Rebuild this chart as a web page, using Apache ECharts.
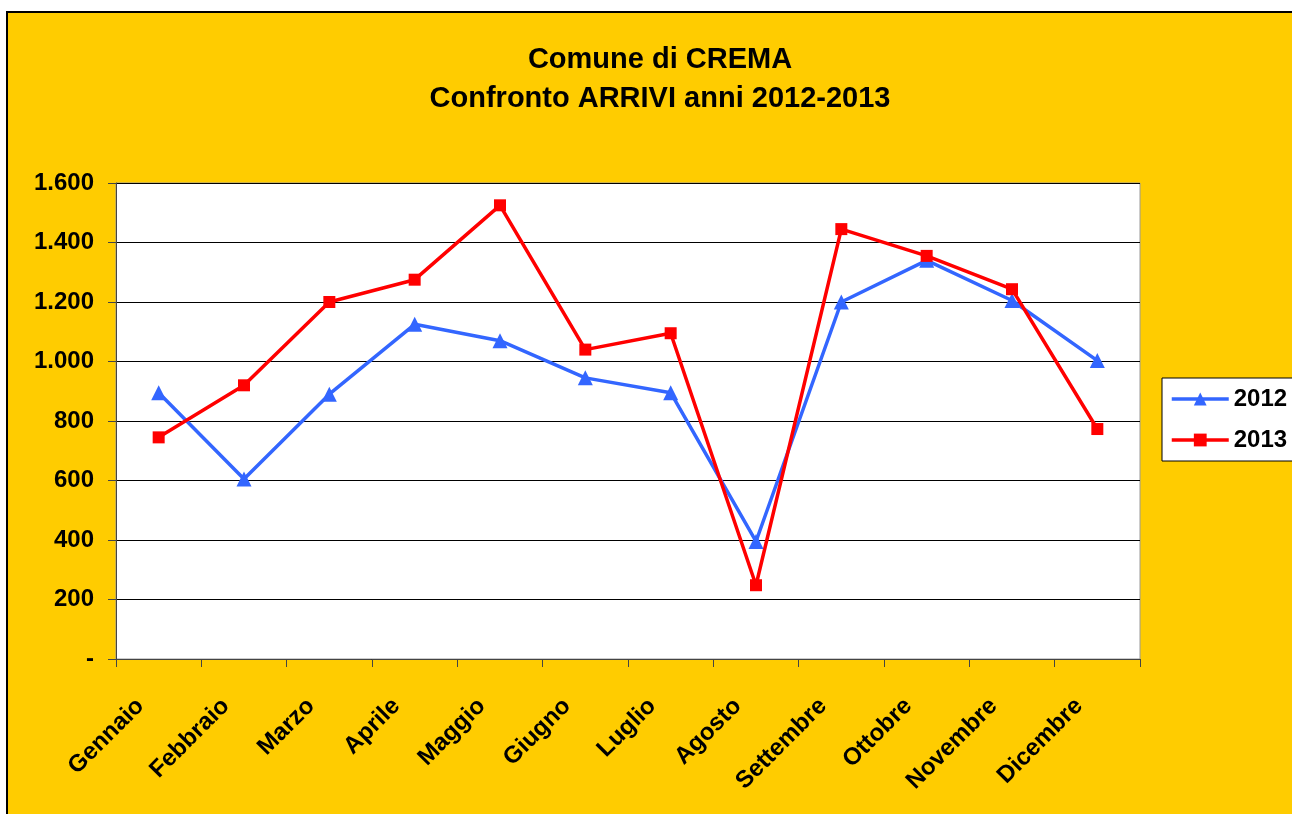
<!DOCTYPE html>
<html>
<head>
<meta charset="utf-8">
<script src="https://cdn.jsdelivr.net/npm/echarts@6/dist/echarts.min.js"></script>
<style>
  html, body { margin: 0; padding: 0; background: #fff; }
  #chart { width: 1292px; height: 814px; }
</style>
</head>
<body>
<div id="chart"></div>
<script>
const months = ['Gennaio', 'Febbraio', 'Marzo', 'Aprile', 'Maggio', 'Giugno', 'Luglio', 'Agosto', 'Settembre', 'Ottobre', 'Novembre', 'Dicembre'];
const arrivi2012 = [895, 605, 890, 1125, 1070, 945, 895, 395, 1200, 1340, 1205, 1003];
const arrivi2013 = [745, 920, 1200, 1275, 1525, 1040, 1095, 248, 1445, 1355, 1243, 773];

const FONT = 'Liberation Sans, Arial, sans-serif';

// 1.600 style, "-" for zero
const fmtNum = v => (v === 0 ? '-' : String(v).replace(/\B(?=(\d{3})+(?!\d))/g, '.'));

const chart = echarts.init(document.getElementById('chart'), null, { renderer: 'canvas' });

chart.setOption({
  backgroundColor: '#fff',
  animation: false,
  textStyle: { fontFamily: FONT },
  graphic: [
    {
      type: 'rect',
      z: -10,
      silent: true,
      shape: { x: 7, y: 12, width: 1400, height: 900 },
      style: { fill: '#FFCC00', stroke: '#000', lineWidth: 2 },
    },
  ],
  title: {
    text: 'Comune di CREMA\nConfronto ARRIVI anni 2012-2013',
    left: 655,
    top: 35,
    textAlign: 'center',
    textStyle: {
      fontFamily: FONT,
      fontSize: 29,
      fontWeight: 'bold',
      color: '#000',
      lineHeight: 39,
    },
  },
  legend: {
    orient: 'vertical',
    left: 1162,
    top: 378,
    data: ['2012', '2013'],
    backgroundColor: '#fff',
    borderColor: '#000',
    borderWidth: 1,
    padding: [9, 10, 9, 8],
    itemGap: 17,
    itemWidth: 57,
    itemHeight: 16,
    lineStyle: { width: 3.5 },
    textStyle: { fontFamily: FONT, fontSize: 24, fontWeight: 'bold', color: '#000' },
  },
  grid: {
    left: 116,
    top: 183,
    right: 152,
    bottom: 155,
    show: true,
    backgroundColor: '#fff',
    borderColor: '#999',
    borderWidth: 1,
  },
  xAxis: {
    type: 'category',
    data: months,
    boundaryGap: true,
    axisLine: { show: true, lineStyle: { color: '#444', width: 1 } },
    axisTick: { show: true, length: 8, lineStyle: { color: '#444' } },
    axisLabel: {
      rotate: 45,
      margin: 25,
      padding: [0, 26, 0, 0],
      interval: 0,
      fontFamily: FONT,
      fontSize: 24,
      fontWeight: 'bold',
      color: '#000',
    },
  },
  yAxis: {
    type: 'value',
    min: 0,
    max: 1600,
    interval: 200,
    axisLine: { show: true, lineStyle: { color: '#444', width: 1 } },
    axisTick: { show: true, length: 8, lineStyle: { color: '#444' } },
    splitLine: { show: true, lineStyle: { color: '#000', width: 1 } },
    axisLabel: {
      margin: 22,
      fontFamily: FONT,
      fontSize: 24,
      fontWeight: 'bold',
      color: '#000',
      formatter: fmtNum,
    },
  },
  series: [
    {
      name: '2012',
      type: 'line',
      data: arrivi2012,
      symbol: 'triangle',
      symbolSize: 15,
      lineStyle: { color: '#3366FF', width: 3.5 },
      itemStyle: { color: '#3366FF' },
    },
    {
      name: '2013',
      type: 'line',
      data: arrivi2013,
      symbol: 'rect',
      symbolSize: 12,
      lineStyle: { color: '#FF0000', width: 3.5 },
      itemStyle: { color: '#FF0000' },
    },
  ],
});

window.addEventListener('resize', chart.resize);
</script>
</body>
</html>
